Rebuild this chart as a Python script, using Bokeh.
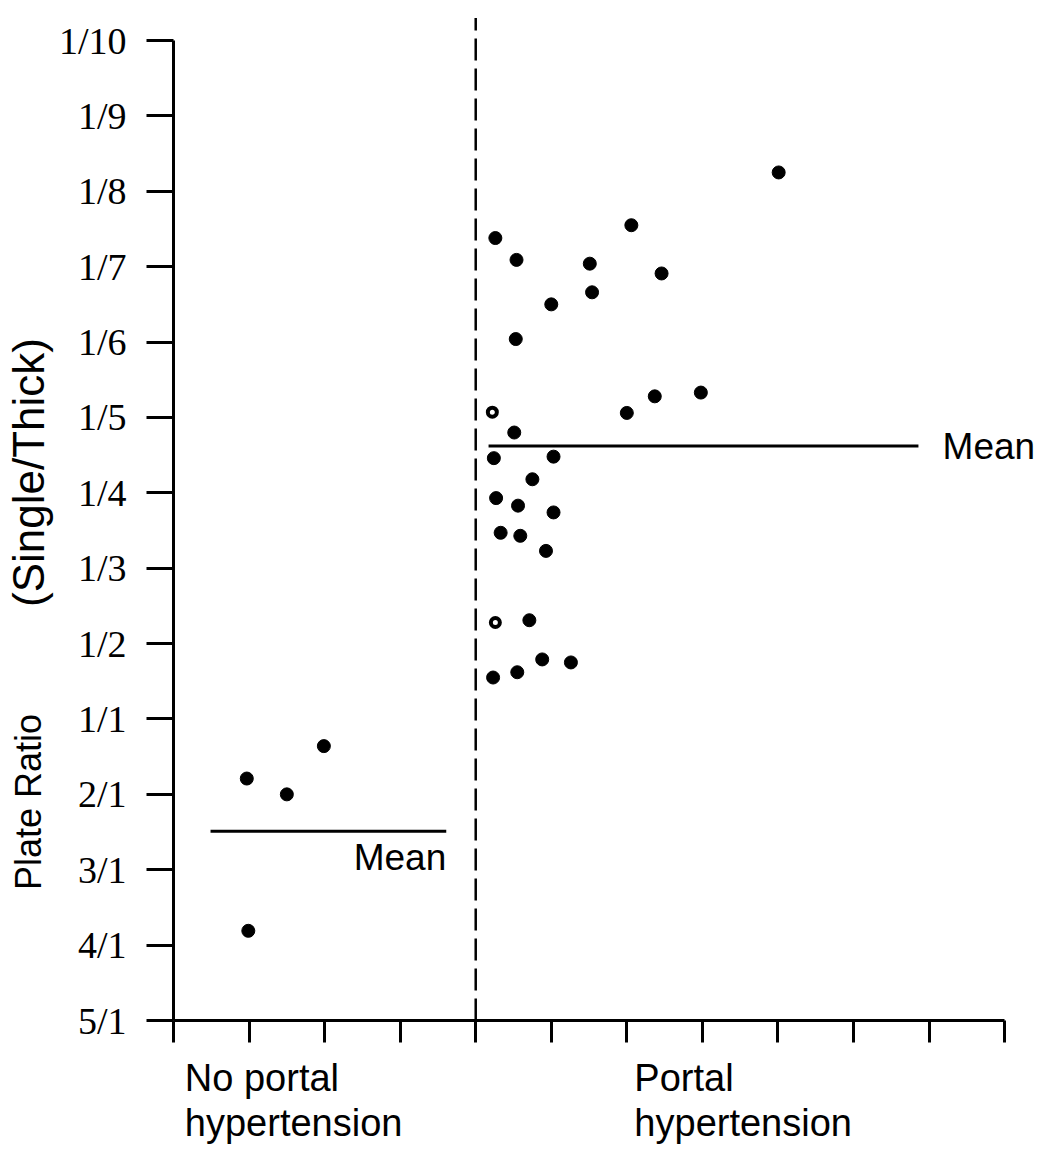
import math

from bokeh.embed import file_html
from bokeh.models import FixedTicker, Label, Range1d
from bokeh.plotting import figure
from bokeh.resources import INLINE

# Plate-ratio scale: index 0 = 5/1 ... index 13 = 1/10
ratio_labels = ["5/1", "4/1", "3/1", "2/1", "1/1", "1/2", "1/3",
                "1/4", "1/5", "1/6", "1/7", "1/8", "1/9", "1/10"]

# No portal hypertension
no_ph_x = [0.97, 1.50, 1.99, 0.99]
no_ph_y = [3.21, 3.00, 3.64, 1.19]
no_ph_mean = 2.51
no_ph_mean_x = [0.49, 3.61]

# Portal hypertension (filled dots)
ph_x = [4.26, 4.54, 5.51, 6.06, 6.46, 5.00, 5.54, 4.53, 8.01,
        4.51, 6.00, 6.37, 6.98, 4.24, 5.03, 4.75, 4.27, 4.56,
        5.03, 4.33, 4.59, 4.93, 4.71, 4.23, 4.55, 4.88, 5.26]
ph_y = [10.38, 10.09, 10.04, 10.55, 9.91, 9.50, 9.66, 9.04, 11.25,
        7.80, 8.06, 8.28, 8.33, 7.46, 7.48, 7.18, 6.93, 6.83,
        6.74, 6.47, 6.43, 6.23, 5.31, 4.55, 4.62, 4.79, 4.75]
# Portal hypertension (open circles)
ph_open_x = [4.22, 4.26]
ph_open_y = [8.07, 5.28]
ph_mean = 7.62
ph_mean_x = [4.17, 9.86]

divider_x = 4.0
divider_top = 13.3
group_label_x = [0.15, 6.10]
group_label_lines = [("No portal", "hypertension"), ("Portal", "hypertension")]
group_label_y = [-0.76, -1.36]
title_x = -1.92
title_parts = [("Plate Ratio", 2.90, "36px"), ("(Single/Thick)", 7.27, "44px")]

SANS = "Liberation Sans"
SERIF = "Liberation Serif"

# the frame fills the whole page; the axes are pinned at x = 0 and y = 0
p = figure(
    frame_width=1042, frame_height=1149,
    min_border=0,
    x_range=Range1d(-2.290, 11.502), y_range=Range1d(-1.711, 13.531),
    output_backend="svg", toolbar_location=None,
)
p.outline_line_color = None
p.background_fill_color = "white"
p.border_fill_color = "white"
p.grid.visible = False

# y axis with ratio labels
ya = p.yaxis[0]
ya.fixed_location = 0
ya.ticker = FixedTicker(ticks=list(range(len(ratio_labels))))
ya.major_label_overrides = {i: t for i, t in enumerate(ratio_labels)}
ya.bounds = (0, 13)
ya.axis_line_width = 3
ya.major_tick_line_width = 3
ya.major_tick_out = 27
ya.major_tick_in = 0
ya.minor_tick_line_color = None
ya.major_label_standoff = 20
ya.major_label_text_font = SERIF
ya.major_label_text_font_size = "38px"
ya.major_label_text_color = "black"
ya.axis_line_color = "black"
ya.major_tick_line_color = "black"

# x axis: plain ticks, group names drawn as text below
xa = p.xaxis[0]
xa.fixed_location = 0
xa.ticker = FixedTicker(ticks=list(range(12)))
xa.major_label_overrides = {i: "" for i in range(12)}
xa.bounds = (0, 11)
xa.axis_line_width = 3
xa.major_tick_line_width = 3
xa.major_tick_out = 22
xa.major_tick_in = 0
xa.minor_tick_line_color = None
xa.axis_line_color = "black"
xa.major_tick_line_color = "black"

# dashed divider between the two groups
p.segment(x0=[divider_x], y0=[0], x1=[divider_x], y1=[divider_top],
          line_color="black", line_width=2.5, line_dash="22 8")

# mean lines
p.segment(x0=[no_ph_mean_x[0], ph_mean_x[0]], y0=[no_ph_mean, ph_mean],
          x1=[no_ph_mean_x[1], ph_mean_x[1]], y1=[no_ph_mean, ph_mean],
          line_color="black", line_width=3)

# data points
p.scatter(no_ph_x, no_ph_y, size=13, marker="circle",
          fill_color="black", line_color="black")
p.scatter(ph_x, ph_y, size=13, marker="circle",
          fill_color="black", line_color="black")
p.scatter(ph_open_x, ph_open_y, size=9, marker="circle",
          fill_color="white", line_color="black", line_width=4)

# "Mean" captions
p.add_layout(Label(x=no_ph_mean_x[1], y=no_ph_mean - 0.35, text="Mean",
                   text_align="right", text_baseline="alphabetic",
                   text_font=SANS, text_font_size="37px", text_color="black"))
p.add_layout(Label(x=10.18, y=ph_mean, text="Mean",
                   text_align="left", text_baseline="middle",
                   text_font=SANS, text_font_size="37px", text_color="black"))

# group names below the x axis
for gx, lines in zip(group_label_x, group_label_lines):
    for line, gy in zip(lines, group_label_y):
        p.add_layout(Label(x=gx, y=gy, text=line,
                           text_align="left", text_baseline="alphabetic",
                           text_font=SANS, text_font_size="38px",
                           text_color="black"))

# y axis title in two parts
for text, ty, size in title_parts:
    p.add_layout(Label(x=title_x, y=ty, text=text, angle=math.pi / 2,
                       text_align="center", text_baseline="middle",
                       text_font=SANS, text_font_size=size, text_color="black"))

open("out.html", "w").write(file_html(p, INLINE))
